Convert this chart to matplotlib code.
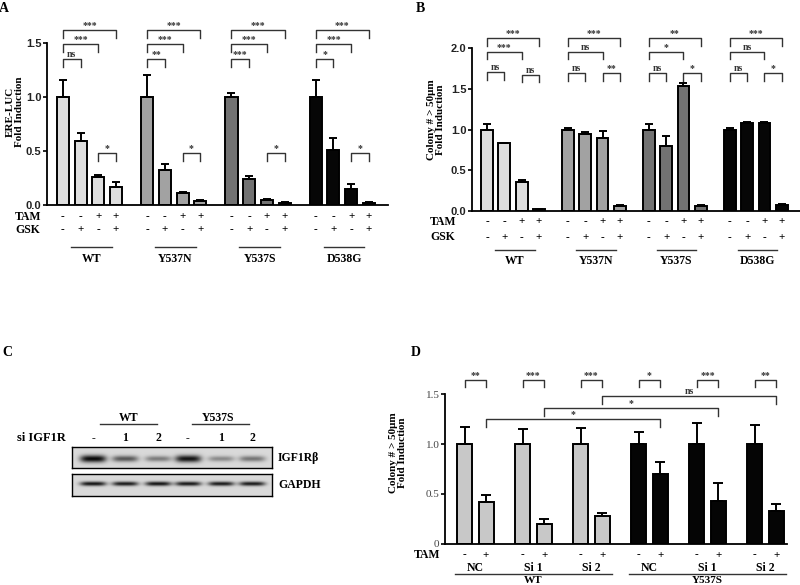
import numpy as np
import matplotlib.pyplot as plt
from matplotlib.lines import Line2D

W, H = 800, 585
SERIF = 'Liberation Serif'
SANS = 'Liberation Sans'

# ---- panel A / B data ----
groups_ab = ['WT', 'Y537N', 'Y537S', 'D538G']
colors_ab = ['#dedede', '#a2a2a2', '#727272', '#060606']
tam_ab = ['-', '-', '+', '+']
gsk_ab = ['-', '+', '-', '+']

ere_mean = [[1.0, 0.59, 0.26, 0.17],
            [1.0, 0.32, 0.11, 0.04],
            [1.0, 0.24, 0.05, 0.02],
            [1.0, 0.51, 0.15, 0.02]]
ere_err = [[0.16, 0.08, 0.02, 0.04],
           [0.20, 0.06, 0.01, 0.005],
           [0.04, 0.03, 0.01, 0.005],
           [0.16, 0.11, 0.04, 0.005]]
# comparisons: (1-4), (1-3), (1-2), (3-4)
ere_sig = [['***', '***', 'ns', '*'],
           ['***', '***', '**', '*'],
           ['***', '***', '***', '*'],
           ['***', '***', '*', '*']]

colony_mean = [[1.0, 0.83, 0.36, 0.02],
               [1.0, 0.95, 0.90, 0.06],
               [1.0, 0.80, 1.53, 0.06],
               [1.0, 1.08, 1.08, 0.07]]
colony_err = [[0.07, 0.01, 0.02, 0.01],
              [0.02, 0.02, 0.08, 0.01],
              [0.07, 0.12, 0.04, 0.01],
              [0.02, 0.01, 0.01, 0.01]]
colony_sig = [['***', '***', 'ns', 'ns'],
              ['***', 'ns', 'ns', '**'],
              ['**', '*', 'ns', '*'],
              ['***', 'ns', 'ns', '*']]

# ---- panel C data ----
lanes_c = ['-', '1', '2', '-', '1', '2']
igf1r_band = [1.0, 0.62, 0.45, 0.95, 0.38, 0.48]
gapdh_band = [0.95, 0.92, 0.95, 0.93, 0.92, 0.92]

# ---- panel D data ----
d_groups = ['NC', 'Si 1', 'Si 2', 'NC', 'Si 1', 'Si 2']
d_lines = ['WT', 'Y537S']
d_colors = ['#c8c8c8', '#050505']
d_tam = ['-', '+']
d_mean = [[1.0, 0.42], [1.0, 0.20], [1.0, 0.28],
          [1.0, 0.70], [1.0, 0.43], [1.0, 0.33]]
d_err = [[0.17, 0.07], [0.15, 0.05], [0.16, 0.03],
         [0.12, 0.12], [0.21, 0.18], [0.19, 0.07]]
d_pair_sig = ['**', '***', '***', '*', '***', '**']
d_cross_sig = ['*', '*', 'ns']

fig = plt.figure(figsize=(8, 5.85), dpi=100)


def px_axes(x0, y0, x1, y1):
    return fig.add_axes([x0 / W, 1 - y1 / H, (x1 - x0) / W, (y1 - y0) / H])


def ftext(x, y, s, **kw):
    kw.setdefault('family', SERIF)
    kw.setdefault('fontweight', 'bold')
    fig.text(x / W, 1 - y / H, s, **kw)


def fline(x0, x1, y, lw=1.0, color='#333333'):
    fig.add_artist(Line2D([x0 / W, x1 / W], [1 - y / H, 1 - y / H],
                          transform=fig.transFigure, lw=lw, color=color))


def bracket(ax, x1, x2, y, drop, label, fs=7, color='#333333'):
    ax.plot([x1, x1, x2, x2], [y - drop, y, y, y - drop], color=color,
            lw=1.0, clip_on=False)
    ax.text((x1 + x2) / 2, y, label, ha='center', va='bottom', fontsize=fs,
            family=SERIF, fontweight='bold', color=color, clip_on=False)


def style_ax(ax, top, ticks, labels, font, weight, color):
    for s in ['top', 'right']:
        ax.spines[s].set_visible(False)
    ax.spines['left'].set_bounds(0, top)
    ax.spines['left'].set_linewidth(1.3)
    ax.spines['bottom'].set_linewidth(1.3)
    ax.set_xticks([])
    ax.set_yticks(ticks)
    ax.set_yticklabels(labels, family=font, fontweight=weight, fontsize=8,
                       color=color)
    ax.tick_params(axis='y', length=3, width=1.2, pad=1)


def four_bar_panel(ax, means, errs, sigs, gap, levels, drop, rows_y):
    for g in range(4):
        xs = g * gap + np.arange(4)
        ax.bar(xs, means[g], width=0.68, color=colors_ab[g],
               edgecolor='black', linewidth=1.4, zorder=2)
        ax.errorbar(xs, means[g], yerr=[np.zeros(4), errs[g]], fmt='none',
                    ecolor='black', elinewidth=1.4, capsize=3, capthick=1.4,
                    zorder=3)
        pairs = [(0, 3), (0, 2), (0, 1), (2, 3)]
        for (a, b), lev, lab in zip(pairs, levels[g], sigs[g]):
            bracket(ax, xs[a], xs[b], lev, drop, lab)
        for x, t, k in zip(xs, tam_ab, gsk_ab):
            ax.text(x, rows_y[0], t, ha='center', va='center', fontsize=8,
                    family=SERIF, fontweight='bold', clip_on=False)
            ax.text(x, rows_y[1], k, ha='center', va='center', fontsize=8,
                    family=SERIF, fontweight='bold', clip_on=False)
        c = g * gap + 1.6
        ax.plot([c - 1.15, c + 1.15], [rows_y[2], rows_y[2]], color='#333333',
                lw=1.0, clip_on=False)
        ax.text(c, rows_y[3], groups_ab[g], ha='center', va='center',
                fontsize=8.5, family=SERIF, fontweight='bold', clip_on=False)


# ===== Panel A =====
axA = px_axes(47, 16, 388, 205)
gapA = 4.76
axA.set_xlim(-0.9, 18.36)
axA.set_ylim(0, 1.75)
levA = [[1.62, 1.49, 1.35, 0.48]] * 4
four_bar_panel(axA, ere_mean, ere_err, ere_sig, gapA, levA, 0.075,
               [-0.111, -0.231, -0.389, -0.50])
style_ax(axA, 1.5, [0, 0.5, 1.0, 1.5], ['0.0', '0.5', '1.0', '1.5'],
         SANS, 'bold', '#222222')
axA.text(-1.98, -0.111, 'TAM', ha='center', va='center', fontsize=8.5,
         family=SERIF, fontweight='bold', clip_on=False)
axA.text(-1.98, -0.231, 'GSK', ha='center', va='center', fontsize=8.5,
         family=SERIF, fontweight='bold', clip_on=False)
ftext(15, 112, 'ERE-LUC\nFold Induction', rotation=90, ha='center',
      va='center', fontsize=8, linespacing=1.05)
ftext(4, 8, 'A', ha='center', va='center', fontsize=10)

# ===== Panel B =====
axB = px_axes(472, 19.5, 800, 211)
gapB = 4.68
axB.set_xlim(-0.87, 18.1)
axB.set_ylim(0, 2.35)
levB = [[2.12, 1.95, 1.70, 1.67]] + [[2.12, 1.95, 1.69, 1.69]] * 3
four_bar_panel(axB, colony_mean, colony_err, colony_sig, gapB, levB, 0.09,
               [-0.13, -0.32, -0.48, -0.61])
style_ax(axB, 2.0, [0, 0.5, 1.0, 1.5, 2.0],
         ['0.0', '0.5', '1.0', '1.5', '2.0'], SANS, 'bold', '#222222')
axB.text(-2.55, -0.13, 'TAM', ha='center', va='center', fontsize=8.5,
         family=SERIF, fontweight='bold', clip_on=False)
axB.text(-2.55, -0.32, 'GSK', ha='center', va='center', fontsize=8.5,
         family=SERIF, fontweight='bold', clip_on=False)
ftext(436, 120, 'Colony # > 50\u03bcm\nFold Induction', rotation=90,
      ha='center', va='center', fontsize=8, linespacing=1.05)
ftext(420, 8, 'B', ha='center', va='center', fontsize=10)

# ===== Panel C =====
ftext(7, 352, 'C', ha='center', va='center', fontsize=10)
ftext(129, 418, 'WT', ha='center', va='center', fontsize=8.5)
ftext(218, 418, 'Y537S', ha='center', va='center', fontsize=8.5)
fline(100, 157, 424)
fline(192, 249, 424)
ftext(41, 438, 'si IGF1R', ha='center', va='center', fontsize=9)
lane_px = [93, 125, 158, 188, 221, 252]
for x, lab in zip(lane_px, lanes_c):
    ftext(x, 438, lab, ha='center', va='center', fontsize=8.5)


def blot(box, bands, yc, thick, label):
    x0, y0, x1, y1 = box
    ax = px_axes(x0, y0, x1, y1)
    wpx, hpx = (x1 - x0) * 2, (y1 - y0) * 2
    xx, yy = np.meshgrid(np.arange(wpx) / 2.0, np.arange(hpx) / 2.0)
    dark = np.zeros_like(xx)
    for lx, inten in zip(lane_px, bands):
        xc = lx - x0
        dark += inten * np.exp(-((xx - xc) / 13.0) ** 4) * \
            np.exp(-((yy - yc) / (thick * (0.6 + 0.4 * inten))) ** 2)
    img = 0.85 - 0.82 * np.clip(dark, 0, 1)
    ax.imshow(img, cmap='gray', vmin=0, vmax=1, aspect='auto',
              interpolation='bilinear')
    ax.set_xticks([])
    ax.set_yticks([])
    for s in ax.spines.values():
        s.set_linewidth(1.0)
    ftext(x1 + 6, (y0 + y1) / 2, label, ha='left', va='center', fontsize=8.5)


blot((72, 447, 272, 468), igf1r_band, 11.5, 3.6, 'IGF1R\u03b2')
blot((72, 474, 272, 496), gapdh_band, 9.5, 2.2, 'GAPDH')

# ===== Panel D =====
axD = px_axes(445, 364.5, 787, 543.5)
gapD = 2.7
axD.set_xlim(-0.91, 15.0)
axD.set_ylim(0, 1.8)
for k in range(6):
    xs = k * gapD + np.arange(2)
    col = d_colors[0] if k < 3 else d_colors[1]
    axD.bar(xs, d_mean[k], width=0.7, color=col, edgecolor='black',
            linewidth=1.4, zorder=2)
    axD.errorbar(xs, d_mean[k], yerr=[np.zeros(2), d_err[k]], fmt='none',
                 ecolor='black', elinewidth=1.4, capsize=3.5, capthick=1.4,
                 zorder=3)
    bracket(axD, xs[0], xs[1], 1.64, 0.07, d_pair_sig[k])
    for x, t in zip(xs, d_tam):
        axD.text(x, -0.116, t, ha='center', va='center', fontsize=8,
                 family=SERIF, fontweight='bold', clip_on=False)
    axD.text(xs.mean(), -0.243, d_groups[k], ha='center', va='center',
             fontsize=8.5, family=SERIF, fontweight='bold', clip_on=False)
for k, (lev, lab) in enumerate(zip([1.25, 1.36, 1.48], d_cross_sig)):
    bracket(axD, k * gapD + 1, (k + 3) * gapD + 1, lev, 0.08, lab)
for i, name in enumerate(d_lines):
    lo = i * 3 * gapD - 0.45
    hi = (i * 3 + 2) * gapD + 1.45
    axD.plot([lo, hi], [-0.303, -0.303], color='#333333', lw=1.0,
             clip_on=False)
    axD.text((lo + hi) / 2, -0.368, name, ha='center', va='center',
             fontsize=8, family=SERIF, fontweight='bold', clip_on=False)
style_ax(axD, 1.5, [0, 0.5, 1.0, 1.5], ['0', '0.5', '1.0', '1.5'],
         SERIF, 'normal', '#444444')
axD.text(-1.74, -0.116, 'TAM', ha='center', va='center', fontsize=8.5,
         family=SERIF, fontweight='bold', clip_on=False)
ftext(398, 453, 'Colony # > 50\u03bcm\nFold Induction', rotation=90,
      ha='center', va='center', fontsize=8, linespacing=1.05)
ftext(416, 352, 'D', ha='center', va='center', fontsize=10)

fig.savefig('out.png', dpi=100)
